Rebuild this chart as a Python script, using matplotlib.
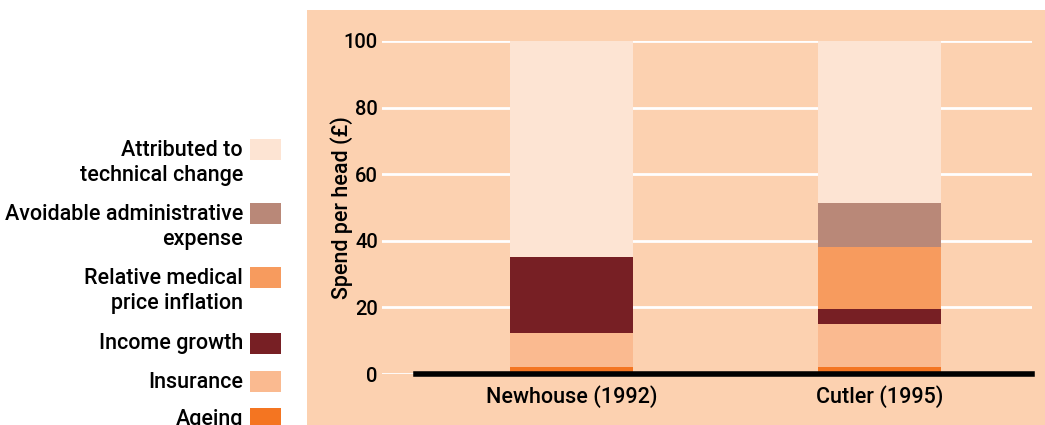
import numpy as np
import matplotlib.pyplot as plt
from matplotlib.patches import Rectangle

plt.rcParams['font.family'] = ['Roboto', 'DejaVu Sans']

studies = ['Newhouse (1992)', 'Cutler (1995)']
# components, bottom to top
labels = ['Ageing', 'Insurance', 'Income growth', 'Relative medical\nprice inflation',
          'Avoidable administrative\nexpense', 'Attributed to\ntechnical change']
ageing = [2.0, 2.0]
insurance = [10.4, 12.9]
income = [22.7, 4.6]
rel_price = [0.0, 18.7]
admin = [0.0, 13.2]
technical = [65.0, 48.6]
yticks = [0, 20, 40, 60, 80, 100]

colors = ['#F47521', '#FABA90', '#771F24', '#F79B5E', '#B98878', '#FDE4D3']
bg = '#FCD1B0'
fs = 15.5

W, H = 1045, 425
fig = plt.figure(figsize=(W / 100, H / 100), dpi=100)

# peach panel behind the plot
fig.patches.append(Rectangle((307 / W, 0), 1 - 307 / W, 1 - 10 / H, transform=fig.transFigure,
                             facecolor=bg, edgecolor='none', zorder=-1))

ax = fig.add_axes([382 / W, (H - 374) / H, 650 / W, 333 / H])
ax.set_facecolor('none')

series = [ageing, insurance, income, rel_price, admin, technical]
x = np.arange(len(studies))
bottom = np.zeros(len(studies))
for vals, c in zip(series, colors):
    ax.bar(x, vals, 0.40, bottom=bottom, color=c, edgecolor='none', zorder=2)
    bottom += np.array(vals)

ax.set_xlim(-0.615, 1.495)
ax.set_ylim(0, 100)
ax.set_yticks(yticks)
ax.set_yticklabels([str(v) for v in yticks], fontsize=14.5, fontweight='medium')
ax.set_xticks(x)
ax.set_xticklabels(studies, fontsize=fs, fontweight='medium')
ax.tick_params(length=0, pad=3)
ax.tick_params(axis='x', pad=8)
ax.grid(axis='y', color='white', linewidth=2, zorder=1)
ax.set_axisbelow(True)
ax.axhline(0, xmin=34 / 650, xmax=1, color='black', linewidth=4, zorder=3, clip_on=False)
for s in ax.spines.values():
    s.set_visible(False)
ax.set_ylabel('Spend per head (£)', fontsize=fs, fontweight='medium')
ax.yaxis.set_label_coords(-0.045, 0.5)

# legend on the left, top to bottom
centers = [149.5, 213.5, 277.5, 343, 381.5, 418.5]
for lab, c, yc in zip(labels[::-1], colors[::-1], centers):
    fig.patches.append(Rectangle((250 / W, 1 - (yc + 10.5) / H), 31 / W, 21 / H,
                                 transform=fig.transFigure, facecolor=c, edgecolor='none'))
    for i, line in enumerate(lab.split('\n')):
        fig.text(243 / W, 1 - (yc + 1 + i * 25) / H, line, ha='right', va='center',
                 fontsize=fs, fontweight='medium')

fig.savefig('out.png', dpi=100)
